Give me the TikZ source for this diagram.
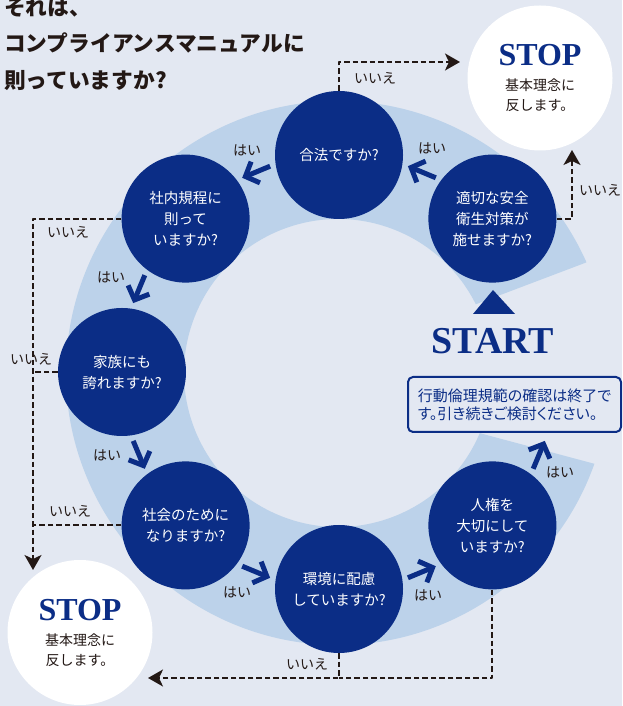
\documentclass[tikz,border=0pt]{standalone}
\usepackage{fontspec}
\usepackage{tikz}
\usetikzlibrary{arrows.meta,calc}
\newfontfamily\jp{Noto Sans CJK JP}
\newfontfamily\jpp{Noto Sans CJK JP}[RawFeature=+palt]
\newfontfamily\stopfont{Liberation Serif}
\definecolor{bg}{HTML}{E3E8F2}
\definecolor{ring}{HTML}{BCD2EA}
\definecolor{navy}{HTML}{0B2D86}
\definecolor{ink}{HTML}{231815}

\begin{document}
\begin{tikzpicture}[line cap=round,line join=round,x=1pt,y=1pt,
    ask/.style={circle,fill=navy,text=white,minimum size=128pt,inner sep=0pt,align=center,font=\jp\fontsize{14.5}{21}\selectfont},
    stopc/.style={circle,fill=white,text=ink,minimum size=145pt,inner sep=0pt,align=center,font=\jp\fontsize{14}{20}\selectfont},
    hai/.style={draw=navy,line width=5pt,line cap=butt,-{Straight Barb[length=11pt,width=23pt]}},
    iie/.style={draw=ink,line width=2pt,line cap=butt,dash pattern=on 5.5pt off 3pt},
    iietip/.style={iie,-{Stealth[length=15pt,width=17pt,inset=4pt]}},
    lbl/.style={text=ink,font=\jp\fontsize{14}{16}\selectfont,inner sep=0pt}]
        \useasboundingbox (0,0) rectangle (622,706);
        \fill [bg] (0,0) rectangle (622,706);
        % ring
        \coordinate (rc) at (338,333);
        \fill [ring] ($(rc)+(24:272)$) arc[start angle=24,end angle=340.5,radius=272]
            -- ($(rc)+(-23:154)$) arc[start angle=337,end angle=26.5,radius=154] -- cycle;
        % title
        \node [anchor=west,align=left,text=ink,inner sep=0pt,font=\jp\bfseries\fontsize{21.7}{36.3}\selectfont] (title) at (4,662)
            {それは、\\コンプライアンスマニュアルに\\則っていますか?};
        % questions
        \node [ask] (tekisetsu) at (492.4,487.4) {適切な安全\\衛生対策が\\施せますか?};
        \node [ask] (gohou) at (339,551) {合法ですか?};
        \node [ask] (shanai) at (185.6,487.4) {社内規程に\\則って\\いますか?};
        \node [ask] (kazoku) at (122,334) {家族にも\\誇れますか?};
        \node [ask] (shakai) at (185.6,180.6) {社会のために\\なりますか?};
        \node [ask] (kankyo) at (339,117) {環境に配慮\\していますか?};
        \node [ask] (jinken) at (492.4,180.6) {人権を\\大切にして\\いますか?};
        % stop
        \node [stopc] (stopT) at (540,628) {{\stopfont\bfseries\fontsize{32}{32}\selectfont\color{navy}STOP}\\[5pt]基本理念に\\反します。};
        \node [stopc] (stopB) at (80,73.5) {{\stopfont\bfseries\fontsize{32}{32}\selectfont\color{navy}STOP}\\[5pt]基本理念に\\反します。};
        % start
        \fill [navy] (473,392) -- (493,416) -- (515,392) -- cycle;
        \node [anchor=base,text=navy,inner sep=0pt,font=\stopfont\bfseries\fontsize{38}{38}\selectfont] (start) at (493,352) {START};
        \node [draw=navy,line width=2pt,rounded corners=5pt,fill=bg,text=navy,align=left,minimum width=213pt,minimum height=55pt,
            font=\jpp\fontsize{15}{18.3}\selectfont] (done) at (514.5,301.5) {行動倫理規範の確認は終了で\\す。引き続きご検討ください。};
        % yes arrows
        \coordinate (h1a) at (435.8,528.2); \coordinate (h1b) at (407.9,539.8);
        \coordinate (h2a) at (270.1,539.8); \coordinate (h2b) at (242.2,528.2);
        \coordinate (h3a) at (144.8,430.8); \coordinate (h3b) at (133.2,402.9);
        \coordinate (h4a) at (133.2,265.1); \coordinate (h4b) at (144.8,237.2);
        \coordinate (h5a) at (242.2,139.8); \coordinate (h5b) at (270.1,128.2);
        \coordinate (h6a) at (407.9,128.2); \coordinate (h6b) at (435.8,139.8);
        \coordinate (h7a) at (533.2,237.2); \coordinate (h7b) at (544.8,265.1);
        \draw [hai] (h1a) -- (h1b);
        \draw [hai] (h2a) -- (h2b);
        \draw [hai] (h3a) -- (h3b);
        \draw [hai] (h4a) -- (h4b);
        \draw [hai] (h5a) -- (h5b);
        \draw [hai] (h6a) -- (h6b);
        \draw [hai] (h7a) -- (h7b);
        \node [lbl] (hai1) at (432,558) {はい};
        \node [lbl] (hai2) at (247,556) {はい};
        \node [lbl] (hai3) at (111,429) {はい};
        \node [lbl] (hai4) at (107,251) {はい};
        \node [lbl] (hai5) at (237,114) {はい};
        \node [lbl] (hai6) at (428,111) {はい};
        \node [lbl] (hai7) at (560,234) {はい};
        % no lines
        \coordinate (toT) at (460,644);
        \coordinate (toR) at (572,556);
        \coordinate (toL) at (33,136);
        \coordinate (toB) at (148,28);
        \draw [iietip] (gohou.north) |- (toT);
        \draw [iietip] (tekisetsu.east) -| (toR);
        \draw [iietip] (shanai.west) -| (toL);
        \draw [iie] (kazoku.west) -- (kazoku.west -| toL);
        \draw [iie] (shakai.west) -- (shakai.west -| toL);
        \draw [iietip] (kankyo.south) |- (toB);
        \draw [iie] (jinken.south) |- (kankyo.south |- toB);
        \node [lbl] (iie1) at (375,628) {いいえ};
        \node [lbl] (iie2) at (600,516) {いいえ};
        \node [lbl] (iie3) at (68,474) {いいえ};
        \node [lbl] (iie4) at (31,347) {いいえ};
        \node [lbl] (iie5) at (70,195) {いいえ};
        \node [lbl] (iie6) at (307,42) {いいえ};
    \end{tikzpicture}
\end{document}
